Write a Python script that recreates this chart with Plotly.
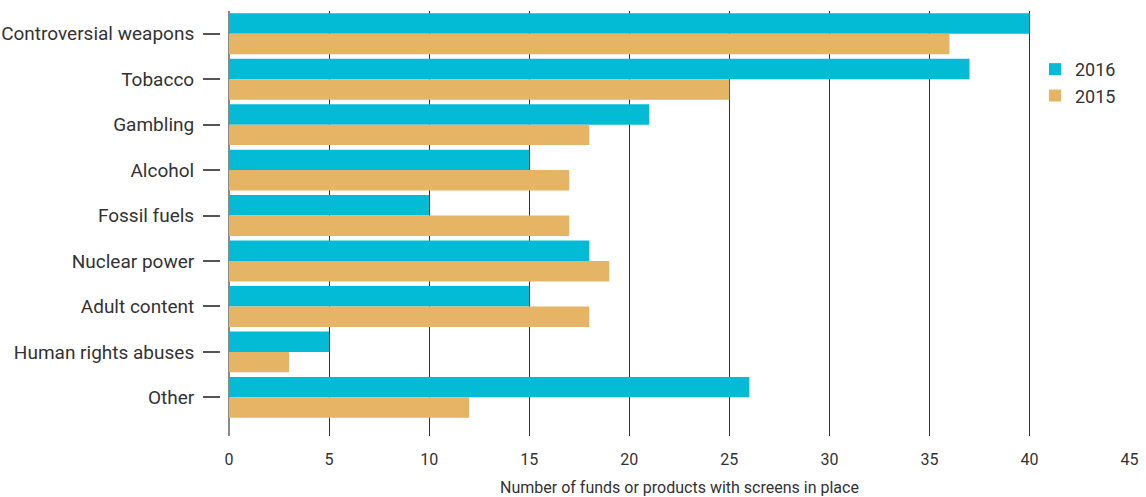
import plotly.graph_objects as go

categories = ["Controversial weapons", "Tobacco", "Gambling", "Alcohol", "Fossil fuels",
              "Nuclear power", "Adult content", "Human rights abuses", "Other"]
values_2016 = [40, 37, 21, 15, 10, 18, 15, 5, 26]
values_2015 = [36, 25, 18, 17, 17, 19, 18, 3, 12]
x_ticks = [0, 5, 10, 15, 20, 25, 30, 35, 40, 45]

FONT = "Roboto, sans-serif"
TXT = "#333333"

fig = go.Figure()
fig.add_trace(go.Bar(name="2016", y=categories, x=values_2016, orientation="h",
                     marker=dict(color="#04BBD6", line=dict(width=0))))
fig.add_trace(go.Bar(name="2015", y=categories, x=values_2015, orientation="h",
                     marker=dict(color="#E5B465", line=dict(width=0))))

W, H = 1146, 497
ml, mr, mt, mb = 0, 16, 11, 61
pw = W - ml - mr
x0px = 229
yaxis_px = 220

fig.update_layout(
    width=W, height=H,
    margin=dict(l=ml, r=mr, t=mt, b=mb),
    paper_bgcolor="white", plot_bgcolor="white",
    barmode="group", bargap=0.1, bargroupgap=0,
    font=dict(family=FONT, color=TXT),
    showlegend=True,
    legend=dict(x=(1035 - ml) / pw, y=0.906, xanchor="left", yanchor="top",
                font=dict(size=18, family=FONT, color=TXT),
                bgcolor="rgba(0,0,0,0)", traceorder="normal", tracegroupgap=0),
    xaxis=dict(domain=[(x0px - ml) / pw, 1], range=[0, 45.02], tickvals=x_ticks,
               showgrid=True, gridcolor="#333333", gridwidth=1,
               zeroline=True, zerolinecolor="#8a8a8a", zerolinewidth=2,
               showline=False, ticks="", tickfont=dict(size=16, family=FONT, color=TXT),
               ticklabelstandoff=12, automargin=False,
               title=dict(text="Number of funds or products with screens in place",
                          font=dict(size=16, family=FONT, color=TXT), standoff=18)),
    yaxis=dict(anchor="free", position=(yaxis_px - ml) / pw,
               range=[8.85, -0.5], showgrid=False, zeroline=False, showline=False,
               ticks="outside", ticklen=17, tickwidth=1.5, tickcolor="#555555",
               tickfont=dict(size=19, family=FONT, color=TXT),
               ticklabelstandoff=5, automargin=False),
)

fig.write_html("out.html", config={"displayModeBar": False},
               post_script="document.body.style.margin='0';")
